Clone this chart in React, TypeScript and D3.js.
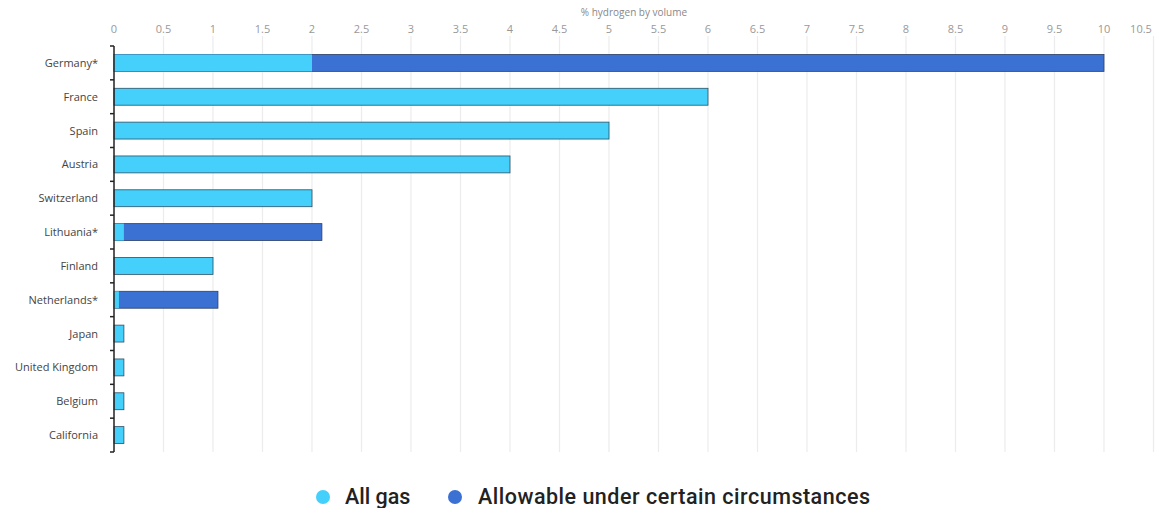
import React from "react";
import * as d3 from "d3";

const categories = ["Germany*", "France", "Spain", "Austria", "Switzerland", "Lithuania*", "Finland", "Netherlands*", "Japan", "United Kingdom", "Belgium", "California"];
const allGas = [2, 6, 5, 4, 2, 0.1, 1, 0.05, 0.1, 0.1, 0.1, 0.1];
const allowable = [8, 0, 0, 0, 0, 2, 0, 1, 0, 0, 0, 0];
const xTicks = [0, 0.5, 1, 1.5, 2, 2.5, 3, 3.5, 4, 4.5, 5, 5.5, 6, 6.5, 7, 7.5, 8, 8.5, 9, 9.5, 10, 10.5];
const seriesNames = ["All gas", "Allowable under certain circumstances"];
const colors = ["#44d0fb", "#3b71d3"];

const W = 1159, H = 508;
const M = { left: 114, right: 1104, top: 46, bottom: 452 };

export default function App() {
  const x = d3.scaleLinear().domain([0, 10]).range([M.left, M.right]);
  const y = d3.scaleBand().domain(categories).range([M.top, M.bottom]).paddingInner(0.5).paddingOuter(0.25);
  const step = y.step();
  const font = "'Open Sans', 'DejaVu Sans', sans-serif";
  return (
    <svg width={W} height={H} style={{ position: "absolute", left: 0, top: 0, background: "#fff" }} fontFamily={font}>
      <text x={634} y={16} fontSize={10} fill="#888" textAnchor="middle">% hydrogen by volume</text>
      {xTicks.map((t) => (
        <g key={t}>
          {t > 0 && <line x1={x(t)} x2={x(t)} y1={36} y2={M.bottom} stroke="#ececec" strokeWidth={1.2} />}
          <text x={Math.min(x(t), 1141)} y={33} fontSize={11} fill="#999" textAnchor="middle">{String(t)}</text>
        </g>
      ))}
      {categories.map((c, i) => {
        const by = y(c)!;
        const bh = y.bandwidth();
        const a = allGas[i];
        const b = allowable[i];
        return (
          <g key={c}>
            {b > 0 && (
              <rect x={x(0)} y={by} width={x(a + b) - x(0)} height={bh} fill={colors[1]} stroke="#2b3f66" strokeWidth={0.8} />
            )}
            <rect x={x(0)} y={by} width={x(a) - x(0)} height={bh} fill={colors[0]} stroke={b > 0 ? "none" : "#2b4f66"} strokeWidth={0.8} />
            <text x={98} y={by + bh / 2 + 4} fontSize={11} fill="#444" textAnchor="end">{c}</text>
          </g>
        );
      })}
      <line x1={M.left} x2={M.left} y1={M.top} y2={M.bottom} stroke="#222" strokeWidth={1.5} />
      {d3.range(categories.length + 1).map((i) => (
        <line key={i} x1={M.left - 4} x2={M.left} y1={M.top + i * step} y2={M.top + i * step} stroke="#222" strokeWidth={1.5} />
      ))}
      <g>
        <circle cx={323} cy={497} r={7} fill={colors[0]} />
        <text x={345} y={504} fontSize={21.5} fontWeight={500} fill="#222" fontFamily="Roboto, sans-serif">{seriesNames[0]}</text>
        <circle cx={455} cy={497} r={7} fill={colors[1]} />
        <text x={478} y={504} fontSize={21.5} fontWeight={500} fill="#222" fontFamily="Roboto, sans-serif" textLength={392} lengthAdjust="spacing">{seriesNames[1]}</text>
      </g>
    </svg>
  );
}
